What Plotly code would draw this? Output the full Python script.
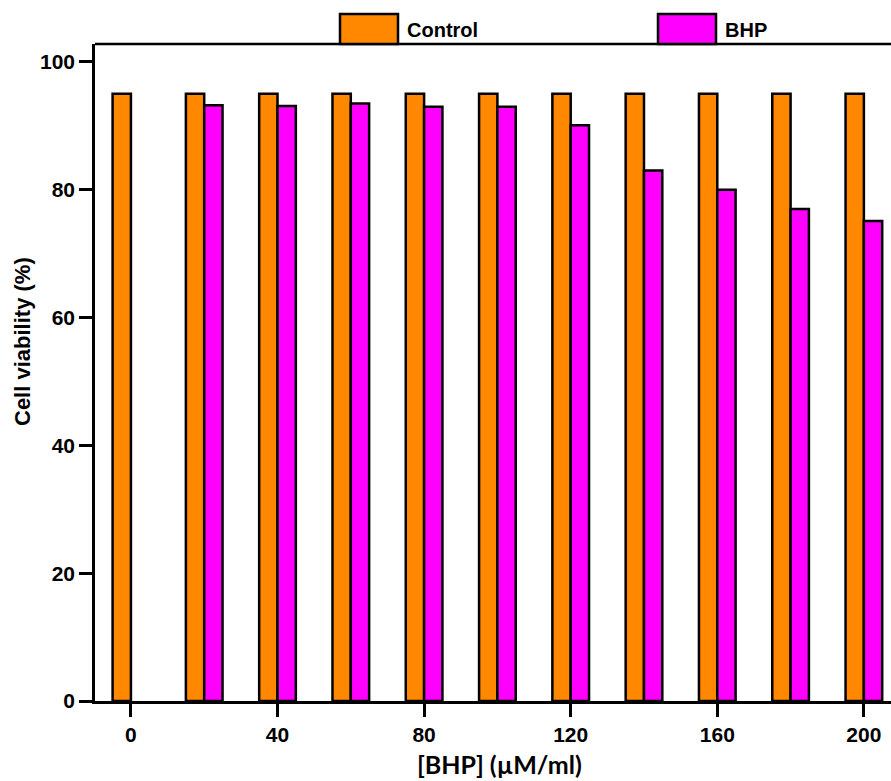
import plotly.graph_objects as go

# BHP concentration (µM/ml) and cell viability (%)
concentrations = [0, 20, 40, 60, 80, 100, 120, 140, 160, 180, 200]
control_viability = [95, 95, 95, 95, 95, 95, 95, 95, 95, 95, 95]
bhp_viability = [None, 93.2, 93.1, 93.5, 93.0, 93.0, 90.1, 83.0, 80.0, 77.0, 75.1]
x_tick_values = [0, 40, 80, 120, 160, 200]
y_tick_values = [0, 20, 40, 60, 80, 100]

ORANGE = "#FF8800"
MAGENTA = "#FF00FF"
FONT = "Liberation Sans"

fig = go.Figure()
fig.add_trace(go.Bar(
    x=concentrations, y=control_viability, name="Control",
    marker=dict(color=ORANGE, line=dict(color="black", width=2.5)),
))
fig.add_trace(go.Bar(
    x=concentrations, y=bhp_viability, name="BHP",
    marker=dict(color=MAGENTA, line=dict(color="black", width=2.5)),
))

W, H = 891, 781
left, right, top, bottom = 95, 0, 44, 80

fig.update_layout(
    width=W, height=H,
    margin=dict(l=left, r=right, t=top, b=bottom, autoexpand=False),
    paper_bgcolor="white", plot_bgcolor="white",
    barmode="group", bargap=0.5, bargroupgap=0,
    showlegend=False,
    font=dict(family=FONT, color="black"),
)
fig.update_xaxes(
    range=[-9.8, 207.4], tickvals=x_tick_values,
    showline=True, linecolor="black", linewidth=2.5,
    ticks="outside", ticklen=13, tickwidth=2.5, tickcolor="black",
    tickfont=dict(family=FONT, size=21, color="black", weight="bold"),
    showgrid=False, zeroline=False,
)
fig.update_yaxes(
    range=[0, 102.8], tickvals=y_tick_values,
    showline=True, linecolor="black", linewidth=2.5,
    ticks="outside", ticklen=13, tickwidth=2.5, tickcolor="black",
    tickfont=dict(family=FONT, size=21, color="black", weight="bold"),
    showgrid=False, zeroline=False,
)

# top frame line
fig.add_shape(type="line", xref="paper", yref="paper", x0=0, x1=1, y0=1, y1=1,
              line=dict(color="black", width=2.5))

# legend swatches sitting on the top frame, with labels
plot_w = W - left - right
plot_h = H - top - bottom

def px_to_paper_x(px):
    return (px - left) / plot_w

def px_to_paper_y(py):
    return (H - bottom - py) / plot_h

legend_items = [("Control", ORANGE, 340, 398), ("BHP", MAGENTA, 658, 716)]
for label, color, x0, x1 in legend_items:
    fig.add_shape(type="rect", xref="paper", yref="paper",
                  x0=px_to_paper_x(x0), x1=px_to_paper_x(x1),
                  y0=px_to_paper_y(44), y1=px_to_paper_y(14),
                  fillcolor=color, line=dict(color="black", width=2.5))
    fig.add_annotation(xref="paper", yref="paper",
                       x=px_to_paper_x(x1 + 7), y=px_to_paper_y(30),
                       text=label, showarrow=False, xanchor="left", yanchor="middle",
                       font=dict(family=FONT, size=20, color="black", weight="bold"))

# axis titles
fig.add_annotation(xref="paper", yref="paper", x=px_to_paper_x(499), y=px_to_paper_y(764),
                   text="[BHP] (µM/ml)", showarrow=False, xanchor="center", yanchor="middle",
                   font=dict(family="Lato", size=25, color="black", weight="bold"))
fig.add_annotation(xref="paper", yref="paper", x=px_to_paper_x(22), y=px_to_paper_y(342),
                   text="Cell viability (%)", showarrow=False, textangle=-90,
                   xanchor="center", yanchor="middle",
                   font=dict(family=FONT, size=22, color="black", weight="bold"))

fig.write_html("out.html")
